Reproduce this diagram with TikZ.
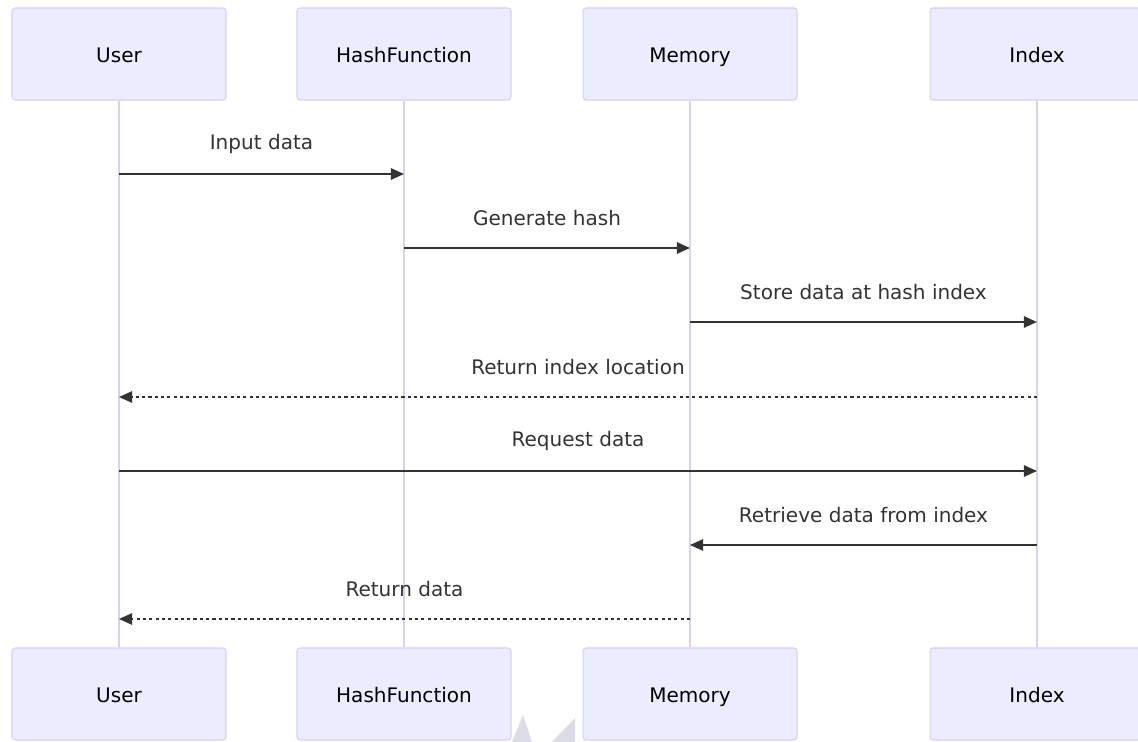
\documentclass[tikz,border=0pt]{standalone}
\usepackage{fontspec}
\setmainfont{DejaVu Sans}
\usetikzlibrary{arrows.meta}
\definecolor{actorfill}{HTML}{ECECFF}
\definecolor{actorline}{HTML}{DACEF3}
\definecolor{msgline}{HTML}{333333}
\definecolor{wmark}{HTML}{DCDCE6}
\newcommand\Actor[3]{
  \node[actor] (#1) at (#2,54) {#3};
  \node[actor] (#1b) at (#2,694) {#3};
  \draw[life] (#1.south) -- (#1b.north);
}
\newcommand\Msg[6]{
  \coordinate (m#1) at (0,#2);
  \draw[#5] (#3 |- m#1) -- node[midway,yshift=0.6cm,text=msgline] {#6} (#4 |- m#1);
}
\tikzstyle{actor}=[rectangle,draw=actorline,fill=actorfill,line width=0.6pt,rounded corners=0.06cm,minimum width=4.28cm,minimum height=1.84cm,text=black,text height=1.05em,text depth=0.1em]
\tikzstyle{life}=[draw=actorline,line width=1.1pt]
\tikzstyle{msg}=[draw=msgline,line width=1pt,-{Triangle[length=7.5pt,width=6.5pt]}]
\tikzstyle{reply}=[msg,dash pattern=on 1.8pt off 1.8pt]

\begin{document}
\begin{tikzpicture}[x=0.02cm,y=-0.02cm,font=\fontsize{11.4}{13.5}\selectfont]
  \useasboundingbox (0,0) rectangle (1138,742);
  \clip (0,0) rectangle (1138,742);
  \Actor{user}{119}{User}
  \Actor{hash}{404}{HashFunction}
  \Actor{mem}{690}{Memory}
  \Actor{idx}{1037}{Index}
  \Msg{1}{174}{user}{hash}{msg}{Input data}
  \Msg{2}{248}{hash}{mem}{msg}{Generate hash}
  \Msg{3}{322}{mem}{idx}{msg}{Store data at hash index}
  \Msg{4}{397}{idx}{user}{reply}{Return index location}
  \Msg{5}{471}{user}{idx}{msg}{Request data}
  \Msg{6}{545}{idx}{mem}{msg}{Retrieve data from index}
  \Msg{7}{619}{mem}{user}{reply}{Return data}
  % grey marks at the bottom edge
  \fill[wmark] (512,742) -- (523,715) -- (532,742) -- cycle;
  \fill[wmark] (552,742) -- (575,718) -- (575,742) -- cycle;
\end{tikzpicture}
\end{document}
